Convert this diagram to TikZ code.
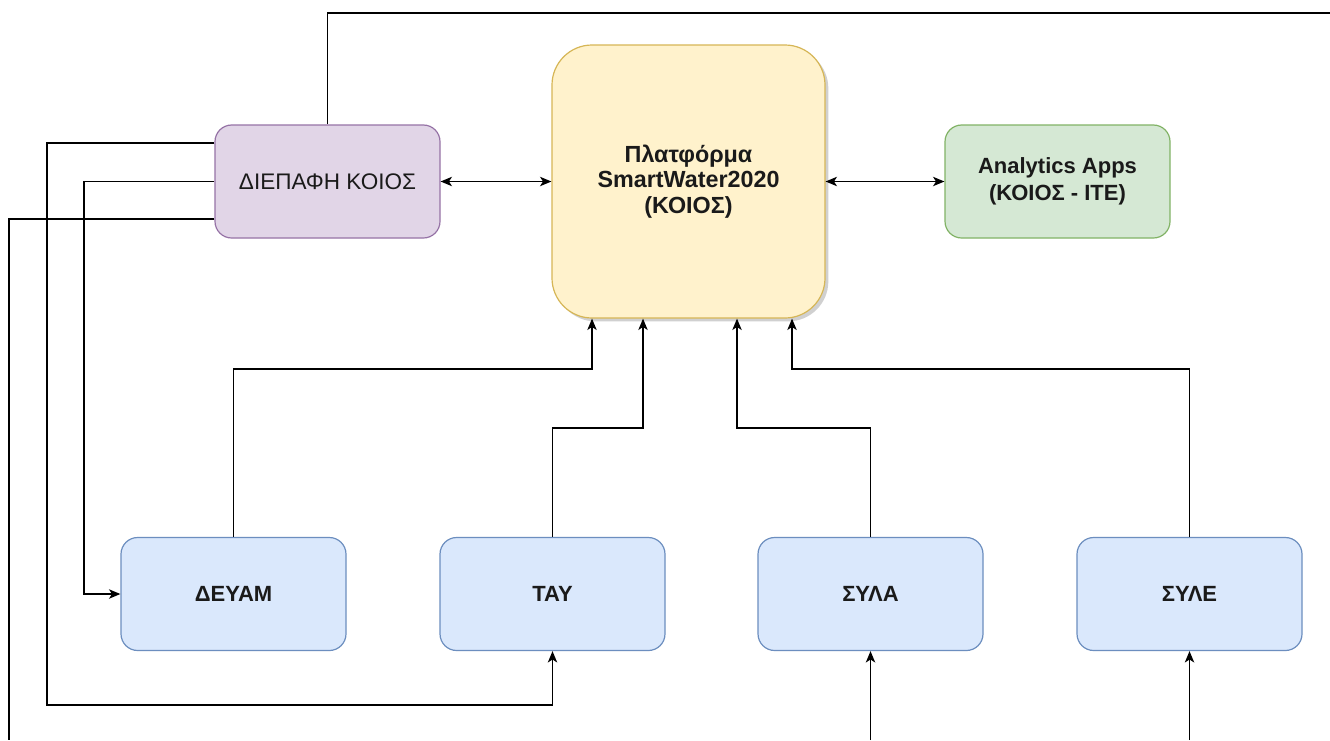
\documentclass[tikz,border=0pt]{standalone}
\usepackage{fontspec}
\setmainfont{Liberation Sans}
\usetikzlibrary{arrows.meta,shadows}
\definecolor{purfill}{HTML}{E1D5E7}
\definecolor{purline}{HTML}{9673A6}
\definecolor{yelfill}{HTML}{FFF2CC}
\definecolor{yelline}{HTML}{D6B656}
\definecolor{grnfill}{HTML}{D5E8D4}
\definecolor{grnline}{HTML}{82B366}
\definecolor{blufill}{HTML}{DAE8FC}
\definecolor{bluline}{HTML}{6C8EBF}
\definecolor{txt}{HTML}{1A1A1A}
\tikzset{
  box/.style={draw, line width=0.9pt, rounded corners=12.5pt, align=center,
    minimum width=168.75pt, minimum height=84.75pt, inner sep=0pt, text=txt,
    font=\fontsize{14.5pt}{18pt}\selectfont},
  purbox/.style={box, fill=purfill, draw=purline, font=\fontsize{16.9pt}{20pt}\selectfont},
  grnbox/.style={box, fill=grnfill, draw=grnline, font=\bfseries\fontsize{16.5pt}{20pt}\selectfont},
  blubox/.style={box, fill=blufill, draw=bluline, font=\bfseries\fontsize{16.5pt}{20pt}\selectfont},
  platbox/.style={box, fill=yelfill, draw=yelline, rounded corners=30pt,
    minimum width=204.75pt, minimum height=204.75pt,
    font=\bfseries\fontsize{17.5pt}{19pt}\selectfont,
    drop shadow={shadow xshift=2.5pt, shadow yshift=-2.5pt, opacity=0.3, fill=black!60}},
  conn/.style={line width=1.1pt, draw=black},
  arr/.style={conn, -{Stealth[length=8.5pt,width=7pt,inset=2.2pt]}},
  biarr/.style={conn, {Stealth[length=8.5pt,width=7pt,inset=2.2pt]}-{Stealth[length=8.5pt,width=7pt,inset=2.2pt]}}
}
\begin{document}
\begin{tikzpicture}[x=0.75pt,y=-0.75pt]
\useasboundingbox (0,0) rectangle (1330,740);
\fill[white] (0,0) rectangle (1330,740);

\node[purbox] (iface) at (327.5,181.5) {ΔΙΕΠΑΦΗ ΚΟΙΟΣ};
\node[platbox] (plat) at (688.5,181.5) {Πλατφόρμα\\SmartWater2020\\(ΚΟΙΟΣ)};
\node[grnbox] (anal) at (1057.5,181.5) {Analytics Apps\\(ΚΟΙΟΣ - ΙΤΕ)};
\node[blubox] (deyam) at (233.5,594) {ΔΕΥΑΜ};
\node[blubox] (tay) at (552.5,594) {ΤΑΥ};
\node[blubox] (syla) at (870.5,594) {ΣΥΛΑ};
\node[blubox] (syle) at (1189.5,594) {ΣΥΛΕ};

% horizontal double arrows
\draw[biarr] (iface.east) -- (plat.west);
\draw[biarr] (plat.east) -- (anal.west);

% bottom boxes up to platform
\coordinate (p1) at (592,369);
\coordinate (p2) at (643,428);
\coordinate (p3) at (737,428);
\coordinate (p4) at (792,369);
\draw[arr] (deyam.north) |- (p1) -- (p1 |- plat.south);
\draw[arr] (tay.north) |- (p2) -- (p2 |- plat.south);
\draw[arr] (syla.north) |- (p3) -- (p3 |- plat.south);
\draw[arr] (syle.north) |- (p4) -- (p4 |- plat.south);

% left side lines from interface
\coordinate (c1) at (47,705);
\coordinate (c2) at (84,400);
\coordinate (c3) at (9,740);
\coordinate (c4) at (1330,13);
\draw[arr] (iface.west |- 0,143) -| (c1) -| (tay.south);
\draw[arr] (iface.west) -| (c2) |- (deyam.west);
\draw[conn] (iface.west |- 0,219) -| (c3);
\draw[conn] (iface.north) |- (c4);

% incoming lines from bottom edge
\coordinate (c5) at (870.5,740);
\coordinate (c6) at (1189.5,740);
\draw[arr] (c5) -- (syla.south);
\draw[arr] (c6) -- (syle.south);
\end{tikzpicture}
\end{document}
